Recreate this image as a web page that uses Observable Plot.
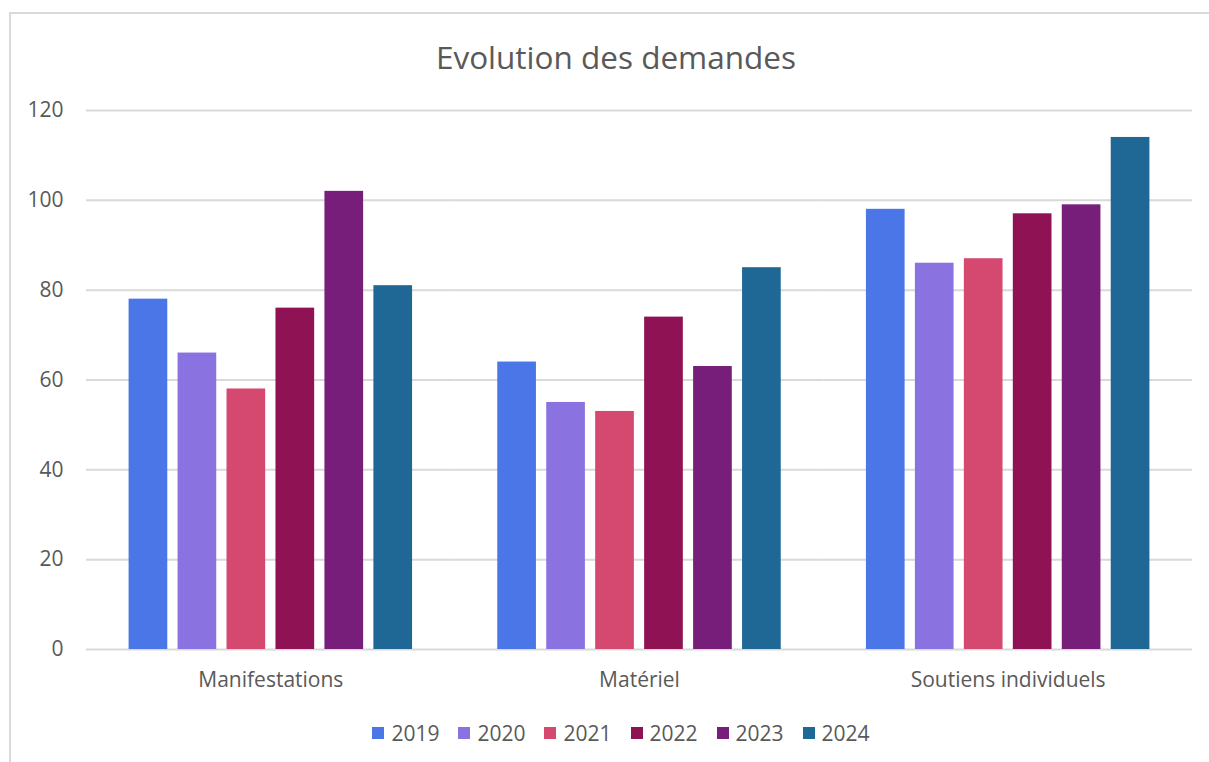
<!DOCTYPE html>
<html>
<head>
<meta charset="utf-8">
<script src="https://cdn.jsdelivr.net/npm/d3@7"></script>
<script src="https://cdn.jsdelivr.net/npm/@observablehq/plot@0.6"></script>
<style>
  html, body { margin: 0; padding: 0; background: #fff; }
  body { width: 1209px; height: 762px; position: relative; overflow: hidden; font-family: "Open Sans", "Noto Sans", sans-serif; }
  #frame { position: absolute; left: 9px; top: 12px; width: 1300px; height: 800px; border-left: 2px solid #d9d9d9; border-top: 2px solid #d9d9d9; }
  #title { position: absolute; left: 0; width: 1232px; top: 35px; text-align: center; font-size: 31.5px; color: #595959; line-height: 44px; }
  #chart { position: absolute; left: 0; top: 0; }
  #legend { position: absolute; left: 0; width: 1242px; top: 719px; display: flex; justify-content: center; gap: 19px; font-size: 21px; color: #595959; line-height: 28px; }
  .item { display: flex; align-items: center; gap: 7px; }
  .sw { width: 12px; height: 12px; display: inline-block; }
</style>
</head>
<body>
<div id="frame"></div>
<div id="title">Evolution des demandes</div>
<div id="chart"></div>
<div id="legend"></div>
<script>
const categories = ["Manifestations", "Matériel", "Soutiens individuels"];
const years = ["2019", "2020", "2021", "2022", "2023", "2024"];
const colors = ["#4a76e8", "#8a73e0", "#d54870", "#8e1254", "#771e7a", "#1f6896"];
const v2019 = [78, 64, 98];
const v2020 = [66, 55, 86];
const v2021 = [58, 53, 87];
const v2022 = [76, 74, 97];
const v2023 = [102, 63, 99];
const v2024 = [81, 85, 114];
const yTicks = [0, 20, 40, 60, 80, 100, 120];

const series = [v2019, v2020, v2021, v2022, v2023, v2024];
const data = [];
categories.forEach((c, i) => {
  years.forEach((y, j) => data.push({cat: c, year: y, value: series[j][i]}));
});

const chart = Plot.plot({
  width: 1209,
  height: 700,
  marginTop: 110,
  marginBottom: 51,
  marginLeft: 86,
  marginRight: 17,
  style: {fontFamily: '"Open Sans", "Noto Sans", sans-serif', fontSize: "21px", color: "#595959", background: "transparent"},
  fx: {domain: categories, padding: 0, round: false, label: null},
  x: {domain: years, paddingInner: 0.21, paddingOuter: 0.87, round: false, axis: null},
  y: {domain: [0, 120], label: null},
  color: {domain: years, range: colors},
  marks: [
    Plot.gridY(yTicks, {stroke: "#d9d9d9", strokeOpacity: 1, strokeWidth: 2}),
    Plot.barY(data, {fx: "cat", x: "year", y: "value", fill: "year", inset: 0}),
    Plot.axisY(yTicks, {tickSize: 0, tickPadding: 23, label: null, fill: "#595959", fontSize: 21}),
    Plot.axisFx({anchor: "bottom", tickSize: 0, tickPadding: 23, label: null, fill: "#595959", fontSize: 21})
  ]
});
document.getElementById("chart").appendChild(chart);

const legend = document.getElementById("legend");
years.forEach((y, i) => {
  const it = document.createElement("div");
  it.className = "item";
  const sw = document.createElement("span");
  sw.className = "sw";
  sw.style.background = colors[i];
  const t = document.createElement("span");
  t.textContent = y;
  it.appendChild(sw);
  it.appendChild(t);
  legend.appendChild(it);
});
</script>
</body>
</html>
